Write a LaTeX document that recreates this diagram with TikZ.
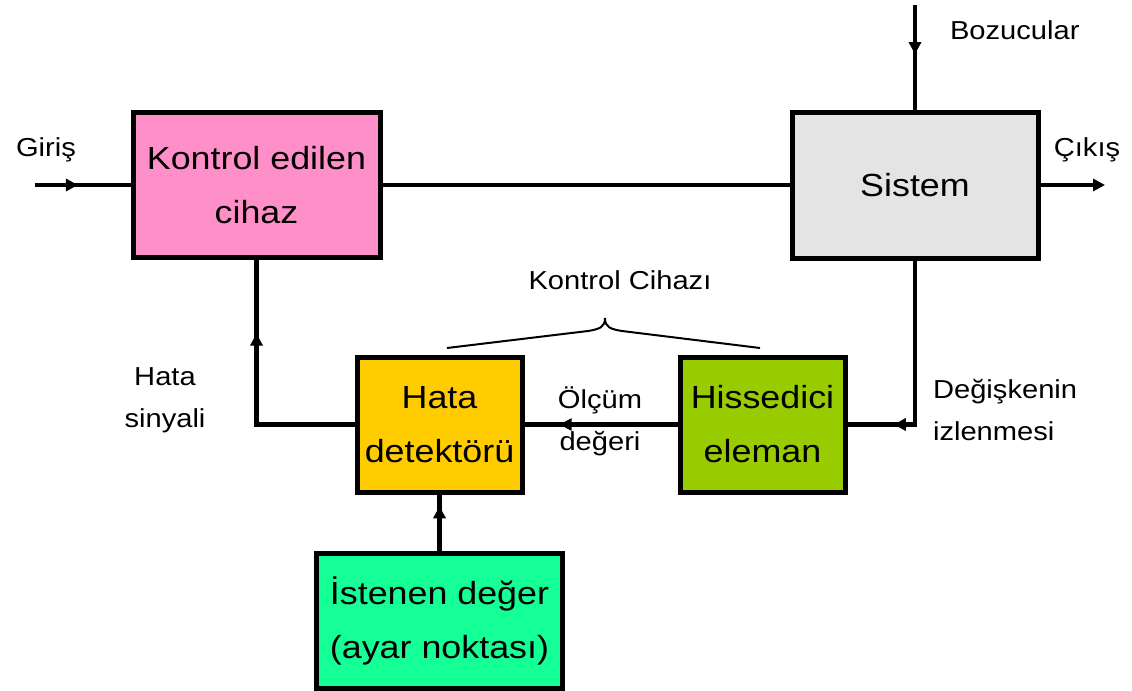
\documentclass[tikz,border=0pt]{standalone}
\usepackage{fontspec}
\setmainfont{Liberation Sans}
\newfontfamily\widefont[FakeStretch=1.12]{Liberation Sans}
\usepackage{tikz}
\usetikzlibrary{arrows.meta,decorations.markings}

\definecolor{kpink}{RGB}{255,143,200}
\definecolor{sgrey}{RGB}{228,228,228}
\definecolor{hyellow}{RGB}{255,204,0}
\definecolor{hgreen}{RGB}{153,204,0}
\definecolor{imint}{RGB}{20,255,150}

\tikzset{
  block/.style={draw, line width=2.5pt, align=center, inner sep=0pt,
    font=\widefont\fontsize{16}{27}\selectfont},
  lbl/.style={font=\widefont\fontsize{13}{21}\selectfont, align=center},
  flow/.style={line width=2.2pt},
  midarrow/.style={postaction={decorate}, decoration={markings,
    mark=at position #1 with {\arrow{Triangle[length=6pt,width=6pt]}}}},
}

\begin{document}
\begin{tikzpicture}[x=0.5pt,y=-0.5pt]
\useasboundingbox (0,0) rectangle (1132,691);

% Blocks
\node[block, fill=kpink, minimum width=123.5pt, minimum height=72.5pt] (kontrol) at (256.5,185) {Kontrol edilen\\cihaz};
\node[block, fill=sgrey, minimum width=123pt, minimum height=73pt] (sistem) at (915,185) {Sistem};
\node[block, fill=hyellow, minimum width=82.5pt, minimum height=67.5pt] (hata) at (439.5,424.5) {Hata\\detektörü};
\node[block, fill=hgreen, minimum width=82.5pt, minimum height=67.5pt] (hissedici) at (762.5,424.5) {Hissedici\\eleman};
\node[block, fill=imint, minimum width=123pt, minimum height=67.5pt] (istenen) at (439.5,620.5) {İstenen değer\\(ayar noktası)};

% Forward path
\coordinate (giris) at (35,185);
\coordinate (cikis) at (1105,185);
\coordinate (bozucu) at (915,5);
\draw[flow, midarrow=0.45] (giris) -- (kontrol);
\draw[flow] (kontrol) -- (sistem);
\draw[flow, -{Triangle[length=6pt,width=6pt]}] (sistem) -- (cikis);
\draw[flow, midarrow=0.47] (bozucu) -- (sistem);

% Feedback path
\draw[flow, midarrow=0.8] (sistem.south) |- (hissedici.east);
\draw[flow, midarrow=0.77] (hissedici) -- (hata);
\draw[flow, midarrow=0.72] (hata.west) -| (kontrol.south);
\draw[flow, midarrow=0.79] (istenen.north) -- (hata.south);

% Brace over the controller
\draw[line width=1pt] (447,348) -- (588,331) .. controls (600,329) and (605,327) .. (605,318)
  .. controls (605,327) and (610,329) .. (622,331) -- (760,348);

% Labels
\node[lbl] (girislbl) at (46,150) {Giriş};
\node[lbl] (cikislbl) at (1087,150) {Çıkış};
\node[lbl, anchor=west] (bozuculbl) at (943,30) {Bozucular};
\node[lbl] (cihazlbl) at (620,280) {Kontrol Cihazı};
\node[lbl] (sinyallbl) at (165,400) {Hata\\sinyali};
\node[lbl] (olcumlbl) at (600,421) {Ölçüm\\değeri};
\node[lbl, anchor=west, align=left] (izlemelbl) at (926,410) {Değişkenin\\izlenmesi};
\end{tikzpicture}
\end{document}
